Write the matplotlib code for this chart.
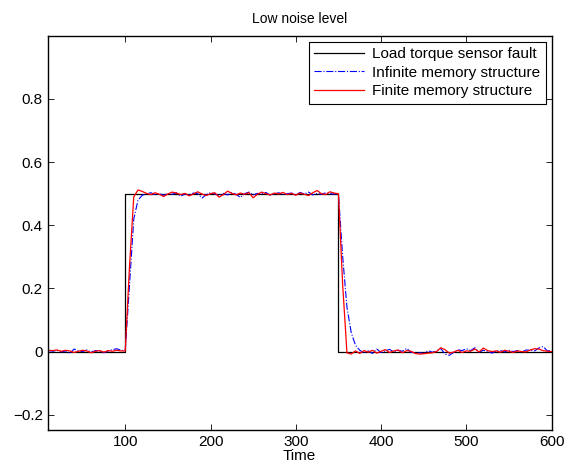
import numpy as np
import matplotlib
matplotlib.use('Agg')
import matplotlib.pyplot as plt

plt.rcParams['font.family'] = ['Liberation Sans', 'DejaVu Sans']

# Fault signal (step)
step_t = [9, 100, 100, 350, 350, 600]
step_y = [0, 0, 0.5, 0.5, 0, 0]

# Estimates sampled every 5 time units, 10..600
t = list(range(10, 601, 5))

finite_mem = [
    0.004, 0.003, 0.005, 0.001, 0.004, 0.002, -0.003, 0.001, 0.004, 0.002,
    -0.004, 0.001, 0.003, -0.002, 0.003, 0.001, 0.004, 0.002,
    0.002, 0.27, 0.49, 0.512, 0.507, 0.501, 0.497, 0.503, 0.498, 0.491,
    0.499, 0.505, 0.502, 0.497, 0.501, 0.493, 0.499, 0.506, 0.499, 0.494,
    0.500, 0.503, 0.489, 0.497, 0.508, 0.501, 0.496, 0.502, 0.498, 0.503,
    0.487, 0.498, 0.505, 0.500, 0.496, 0.502, 0.499, 0.504, 0.497, 0.501,
    0.495, 0.502, 0.498, 0.494, 0.503, 0.510, 0.500, 0.497, 0.506, 0.502,
    0.500, 0.21, -0.004, -0.008, 0.002, -0.006, 0.003, -0.002, 0.004, -0.005,
    0.001, 0.006, -0.003, 0.002, 0.005, -0.004, 0.003, 0.001, -0.006, -0.008,
    -0.007, -0.005, -0.004, 0.000, 0.012, 0.006, -0.005, -0.002, 0.004, -0.003,
    0.002, 0.001, 0.008, -0.001, 0.011, 0.003, 0.000, 0.002, -0.002, 0.004,
    0.001, -0.003, 0.002, 0.000, -0.001, 0.005, 0.009, 0.008, 0.003, 0.001,
    0.000,
]

infinite_mem = [
    0.003, 0.001, 0.004, -0.001, 0.002, -0.006, 0.008, 0.002, 0.000, 0.005,
    -0.002, 0.003, 0.001, -0.004, 0.002, 0.006, 0.009, 0.004,
    0.003, 0.21, 0.42, 0.48, 0.495, 0.500, 0.503, 0.497, 0.500, 0.495,
    0.501, 0.498, 0.503, 0.492, 0.499, 0.496, 0.502, 0.500, 0.486, 0.497,
    0.503, 0.499, 0.494, 0.501, 0.496, 0.503, 0.498, 0.488, 0.500, 0.505,
    0.496, 0.501, 0.499, 0.504, 0.495, 0.499, 0.503, 0.497, 0.500, 0.502,
    0.496, 0.504, 0.499, 0.505, 0.496, 0.501, 0.498, 0.503, 0.500, 0.499,
    0.500, 0.30, 0.14, 0.06, 0.02, 0.004, -0.004, 0.002, -0.006, 0.008,
    -0.003, 0.002, 0.007, -0.002, 0.004, 0.001, 0.010, -0.002, -0.005, -0.004,
    -0.006, 0.003, -0.002, 0.001, 0.010, -0.008, -0.012, -0.003, 0.006, 0.003,
    0.009, 0.003, 0.012, -0.002, 0.004, 0.001, -0.005, 0.002, 0.003, -0.001,
    0.004, 0.000, 0.003, -0.002, 0.005, 0.004, 0.002, 0.011, 0.016, 0.002,
    0.004,
]

fig = plt.figure(figsize=(5.74, 4.71), dpi=100)
ax = fig.add_axes([0.083, 0.086, 0.878, 0.838])

ax.plot(step_t, step_y, color='black', lw=0.9, label='Load torque sensor fault')
ax.plot(t, infinite_mem, color='blue', lw=0.8, ls='-.', label='Infinite memory structure')
ax.plot(t, finite_mem, color='red', lw=0.9, label='Finite memory structure')

ax.set_xlim(9, 600)
ax.set_ylim(-0.25, 1.0)
ax.set_xticks([100, 200, 300, 400, 500, 600])
ax.set_yticks([-0.2, 0, 0.2, 0.4, 0.6, 0.8])
ax.set_yticklabels(['\u22120.2', '0', '0.2', '0.4', '0.6', '0.8'])
ax.tick_params(direction='in', top=True, right=True, length=4, width=0.6, labelsize=11)
for s in ax.spines.values():
    s.set_linewidth(1.0)

ax.set_xlabel('Time', fontsize=11, labelpad=0)
ax.set_title('Low noise level', fontsize=10, pad=9)

leg = ax.legend(loc='upper right', fontsize=11, handlelength=3.3, fancybox=False,
                edgecolor='black', framealpha=1, borderaxespad=0.4,
                labelspacing=0.3, borderpad=0.35, handletextpad=0.5)
leg.get_frame().set_linewidth(0.8)

fig.savefig('out.png', dpi=100)
